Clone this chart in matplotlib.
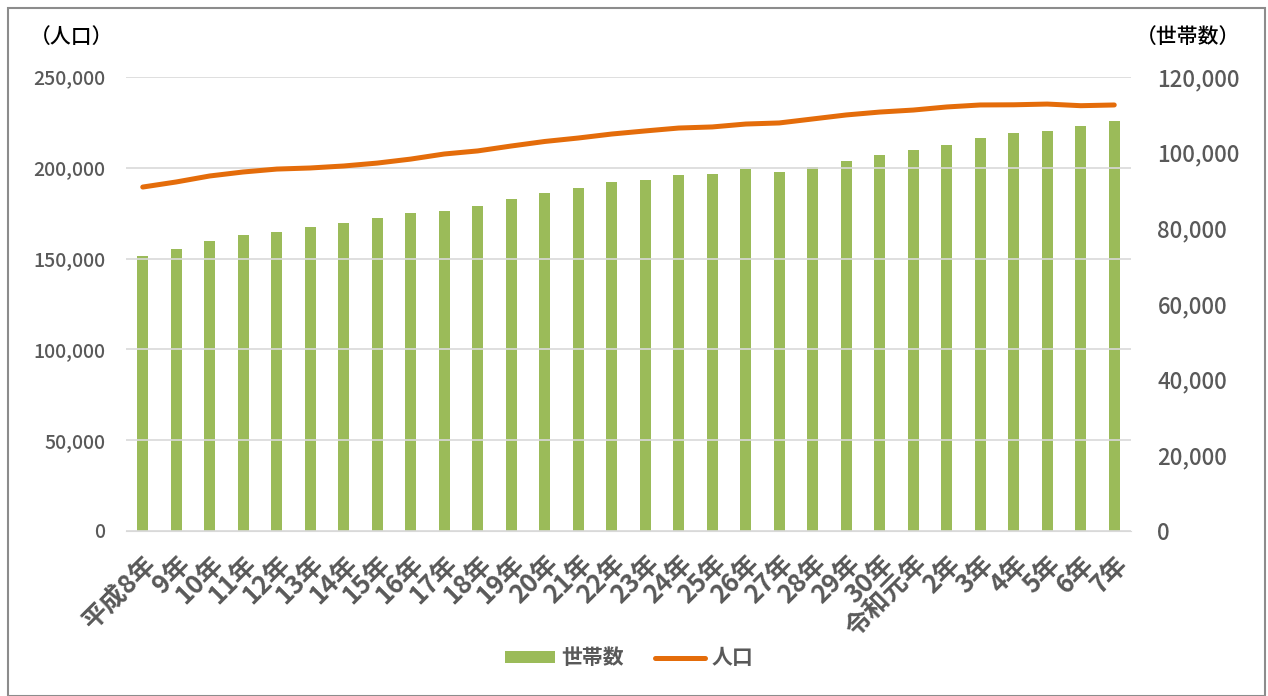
import matplotlib.pyplot as plt
import matplotlib.ticker as mticker
from matplotlib.patches import Rectangle
import numpy as np

plt.rcParams['font.family'] = ['Noto Sans CJK JP', 'DejaVu Sans']

# 年次ラベル
years = ['平成8年', '9年', '10年', '11年', '12年', '13年', '14年', '15年', '16年',
         '17年', '18年', '19年', '20年', '21年', '22年', '23年', '24年', '25年',
         '26年', '27年', '28年', '29年', '30年', '令和元年', '2年', '3年', '4年',
         '5年', '6年', '7年']

# 世帯数（右軸）
households = [72700, 74500, 76700, 78200, 79000, 80400, 81400, 82700, 84100,
              84600, 85900, 87800, 89300, 90700, 92300, 92800, 94100, 94400,
              95700, 94900, 96200, 97800, 99400, 100700, 102000, 103900, 105200,
              105700, 107100, 108400]

# 人口（左軸）
population = [189400, 192200, 195500, 197700, 199300, 199900, 201000, 202600,
              204800, 207600, 209300, 212000, 214500, 216400, 218600, 220300,
              221900, 222500, 224100, 224700, 226900, 229100, 230700, 231800,
              233500, 234600, 234700, 235100, 234200, 234600]

text_color = '#595959'
bar_color = '#9BBB59'
line_color = '#E46C0A'

fig = plt.figure(figsize=(12.68, 6.96), dpi=100)
fig.patches.append(Rectangle((8 / 1268, 0), 1 - 11 / 1268, 1 - 8 / 696,
                             transform=fig.transFigure, fill=False,
                             edgecolor='#8c8c8c', linewidth=1.5))

ax = fig.add_axes([126 / 1268, 1 - 531 / 696, 1005 / 1268, 454 / 696])
ax2 = ax.twinx()

x = np.arange(len(years))

# 棒は右軸、線は左軸
b = ax2.bar(x, households, width=0.33, color=bar_color, label='世帯数', zorder=2)
ax2.set_ylim(0, 120000)
ax2.set_yticks(np.arange(0, 120001, 20000))

ax.set_ylim(0, 250000)
ax.set_yticks(np.arange(0, 250001, 50000))
ax.grid(axis='y', color='#d9d9d9', linewidth=1.2)
ax.set_axisbelow(True)

# 線を棒の上に描くため、左軸を前面に
ax.set_zorder(ax2.get_zorder() + 1)
ax.patch.set_visible(False)
l, = ax.plot(x, population, color=line_color, linewidth=3.6, label='人口',
             solid_capstyle='round')

ax.set_xlim(-0.5, len(years) - 0.5)
ax.set_xticks(x)
ax.set_xticklabels(years, rotation=45, ha='right', rotation_mode='anchor',
                   fontsize=18.5, color=text_color, fontweight='bold')

fmt = mticker.FuncFormatter(lambda v, p: f'{int(v):,}')
for a in (ax, ax2):
    a.yaxis.set_major_formatter(fmt)
    for s in a.spines.values():
        s.set_visible(False)
    a.tick_params(length=0, labelcolor=text_color)
ax.spines['bottom'].set_visible(True)
ax.spines['bottom'].set_color('#d9d9d9')
ax.tick_params(axis='y', pad=15, labelsize=14)
ax2.tick_params(axis='y', pad=19, labelsize=16)
ax.tick_params(axis='x', pad=14)
for t in ax.get_yticklabels() + ax2.get_yticklabels():
    t.set_fontweight('medium')

fig.text(30 / 1268, 1 - 37 / 696, '（人口）', fontsize=15, va='center', ha='left',
         color='black', fontweight='medium')
fig.text(1240 / 1268, 1 - 37 / 696, '（世帯数）', fontsize=15, va='center',
         ha='right', color='black', fontweight='medium')

fig.legend([b, l], ['世帯数', '人口'], loc='center', ncol=2,
           bbox_to_anchor=(629 / 1268, 1 - 658 / 696), frameon=False,
           prop={'size': 15, 'weight': 'bold'}, handlelength=2.4,
           handleheight=0.45, handletextpad=0.3, columnspacing=1.5,
           labelcolor=text_color)

fig.savefig('out.png', dpi=100)
